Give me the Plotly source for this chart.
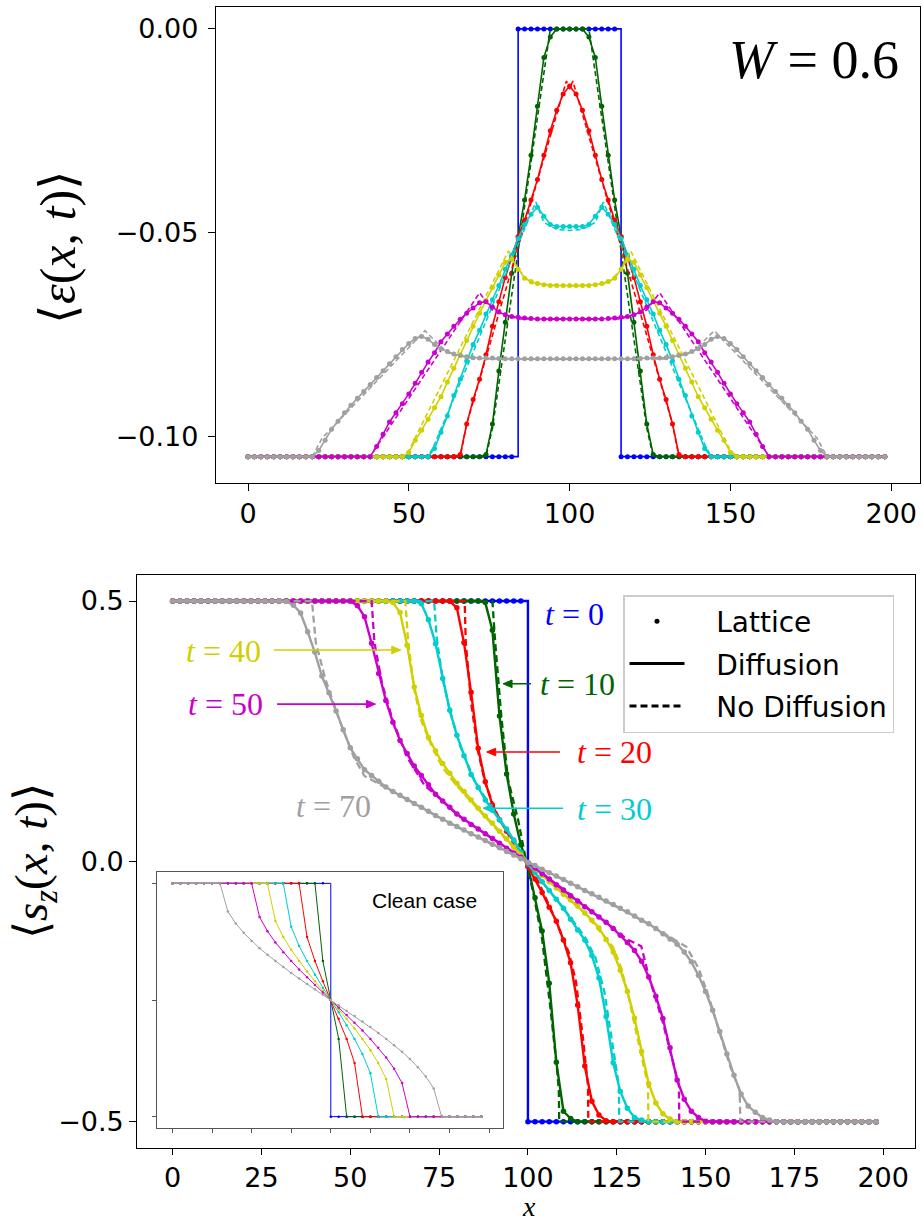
import plotly.graph_objects as go

# ---------------- data ----------------
B = -0.105  # flat energy baseline
SITES = list(range(0, 200, 2))          # lattice sites shown (every 2nd)
INSET_SITES = list(range(0, 200, 5))    # inset sampling
TIME_LABELS = ["0", "10", "20", "30", "40", "50", "70"]
COLORS = ["#0000ff", "#006400", "#ff0000", "#00cdcd", "#d0d000", "#cc00cc", "#a0a0a0"]

# --- top panel: energy profile <eps(x,t)>, lattice/diffusion (x = 0,2,...,198)
E_T0 = [B, B, B, B, B, B, B, B, B, B,
        B, B, B, B, B, B, B, B, B, B,
        B, B, B, B, B, B, B, B, B, B,
        B, B, B, B, B, B, B, B, B, B,
        B, B, 0.0, 0.0, 0.0, 0.0, 0.0, 0.0, 0.0, 0.0,
        0.0, 0.0, 0.0, 0.0, 0.0, 0.0, 0.0, 0.0, B, B,
        B, B, B, B, B, B, B, B, B, B,
        B, B, B, B, B, B, B, B, B, B,
        B, B, B, B, B, B, B, B, B, B,
        B, B, B, B, B, B, B, B, B, B]
E_T10 = [B, B, B, B, B, B, B, B, B, B,
         B, B, B, B, B, B, B, B, B, B,
         B, B, B, B, B, B, B, B, B, B,
         B, B, B, B, B, B, B, -0.1045, -0.097, -0.084,
         -0.072, -0.060, -0.051, -0.042, -0.031, -0.019, -0.007, -0.002, 0.0, 0.0,
         0.0, 0.0, 0.0, -0.002, -0.007, -0.019, -0.031, -0.042, -0.051, -0.060,
         -0.072, -0.084, -0.097, -0.1045, B, B, B, B, B, B,
         B, B, B, B, B, B, B, B, B, B,
         B, B, B, B, B, B, B, B, B, B,
         B, B, B, B, B, B, B, B, B, B]
E_T20 = [B, B, B, B, B, B, B, B, B, B,
         B, B, B, B, B, B, B, B, B, B,
         B, B, B, B, B, B, B, B, B, B,
         B, B, B, -0.1045, -0.097, -0.091, -0.086, -0.080, -0.073, -0.067,
         -0.061, -0.056, -0.051, -0.047, -0.042, -0.037, -0.031, -0.025, -0.020, -0.016,
         -0.014, -0.016, -0.020, -0.025, -0.031, -0.037, -0.042, -0.047, -0.051, -0.056,
         -0.061, -0.067, -0.073, -0.080, -0.086, -0.091, -0.097, -0.1045, B, B,
         B, B, B, B, B, B, B, B, B, B,
         B, B, B, B, B, B, B, B, B, B,
         B, B, B, B, B, B, B, B, B, B]
E_T30 = [B, B, B, B, B, B, B, B, B, B,
         B, B, B, B, B, B, B, B, B, B,
         B, B, B, B, B, B, B, B, B, -0.103,
         -0.099, -0.095, -0.090, -0.086, -0.0815, -0.0775, -0.074, -0.070, -0.0665, -0.063,
         -0.059, -0.0555, -0.0515, -0.048, -0.0455, -0.0438, -0.046, -0.048, -0.0485, -0.0485,
         -0.0485, -0.0485, -0.0485, -0.048, -0.046, -0.0438, -0.0455, -0.048, -0.0515, -0.0555,
         -0.059, -0.063, -0.0665, -0.070, -0.074, -0.0775, -0.0815, -0.086, -0.090, -0.095,
         -0.099, -0.103, B, B, B, B, B, B, B, B,
         B, B, B, B, B, B, B, B, B, B,
         B, B, B, B, B, B, B, B, B, B]
E_T40 = [B, B, B, B, B, B, B, B, B, B,
         B, B, B, B, B, B, B, B, B, B,
         B, B, B, B, B, -0.104, -0.101, -0.0985, -0.0958, -0.093,
         -0.0903, -0.0867, -0.0833, -0.080, -0.0765, -0.073, -0.0698, -0.0667, -0.0635, -0.0604,
         -0.0573, -0.0565, -0.059, -0.0612, -0.062, -0.0625, -0.0628, -0.063, -0.063, -0.063,
         -0.063, -0.063, -0.063, -0.063, -0.0628, -0.0625, -0.062, -0.0612, -0.059, -0.0565,
         -0.0573, -0.0604, -0.0635, -0.0667, -0.0698, -0.073, -0.0765, -0.080, -0.0833, -0.0867,
         -0.0903, -0.093, -0.0958, -0.0985, -0.101, -0.104, B, B, B, B,
         B, B, B, B, B, B, B, B, B, B,
         B, B, B, B, B, B, B, B, B, B]
E_T50 = [B, B, B, B, B, B, B, B, B, B,
         B, B, B, B, B, B, B, B, B, B,
         -0.1025, -0.0995, -0.0965, -0.0942, -0.092, -0.0896, -0.087, -0.0843, -0.0818, -0.0795,
         -0.0768, -0.0749, -0.073, -0.0713, -0.0698, -0.0685, -0.0672, -0.067, -0.0683, -0.0695,
         -0.0702, -0.0706, -0.0708, -0.071, -0.0711, -0.0712, -0.0712, -0.0712, -0.0712, -0.0712,
         -0.0712, -0.0712, -0.0712, -0.0712, -0.0712, -0.0712, -0.0711, -0.071, -0.0708, -0.0706,
         -0.0702, -0.0695, -0.0683, -0.067, -0.0672, -0.0685, -0.0698, -0.0713, -0.073, -0.0749,
         -0.0768, -0.0795, -0.0818, -0.0843, -0.087, -0.0896, -0.092, -0.0942, -0.0965, -0.0995,
         -0.1025, B, B, B, B, B, B, B, B, B,
         B, B, B, B, B, B, B, B, B, B]
E_T70 = [B, B, B, B, B, B, B, B, B, B,
         -0.105, -0.1035, -0.101, -0.0983, -0.0963, -0.0942, -0.0924, -0.0907, -0.089, -0.0873,
         -0.0856, -0.0839, -0.0822, -0.0805, -0.0787, -0.0772, -0.076, -0.0755, -0.0762, -0.0775,
         -0.0785, -0.0792, -0.0798, -0.0802, -0.0805, -0.0807, -0.0808, -0.0808, -0.0808, -0.0809,
         -0.081, -0.081, -0.081, -0.081, -0.081, -0.081, -0.081, -0.081, -0.081, -0.081,
         -0.081, -0.081, -0.081, -0.081, -0.081, -0.081, -0.081, -0.081, -0.081, -0.081,
         -0.081, -0.0809, -0.0808, -0.0808, -0.0808, -0.0807, -0.0805, -0.0802, -0.0798, -0.0792,
         -0.0785, -0.0775, -0.0762, -0.0755, -0.076, -0.0772, -0.0787, -0.0805, -0.0822, -0.0839,
         -0.0856, -0.0873, -0.089, -0.0907, -0.0924, -0.0942, -0.0963, -0.0983, -0.101, -0.1035,
         B, B, B, B, B, B, B, B, B, B]

# --- top panel: no-diffusion (dashed) curves, as (x, y) knots
NDE_T10_X = [0, 74, 76, 94, 106, 124, 126, 198]
NDE_T10_Y = [B, B, -0.098, 0.0, 0.0, -0.098, B, B]
NDE_T20_X = [0, 66, 68, 99, 100, 101, 132, 134, 198]
NDE_T20_Y = [B, B, -0.097, -0.0128, -0.0148, -0.0128, -0.097, B, B]
NDE_T30_X = [0, 56, 58, 89.5, 92, 96, 100, 104, 108, 110.5, 142, 144, 198]
NDE_T30_Y = [B, B, -0.102, -0.0425, -0.0475, -0.0492, -0.0495, -0.0492, -0.0475, -0.0425, -0.102, B, B]
NDE_T40_X = [0, 48, 50, 81, 84, 88, 100, 112, 116, 119, 150, 152, 198]
NDE_T40_Y = [B, B, -0.1035, -0.0545, -0.059, -0.0625, -0.0632, -0.0625, -0.059, -0.0545, -0.1035, B, B]
NDE_T50_X = [0, 38, 40, 72, 76, 84, 100, 116, 124, 128, 160, 162, 198]
NDE_T50_Y = [B, B, -0.1025, -0.0648, -0.069, -0.0712, -0.0713, -0.0712, -0.069, -0.0648, -0.1025, B, B]
NDE_T70_X = [0, 20, 23, 55, 62, 70, 100, 130, 138, 145, 177, 180, 198]
NDE_T70_Y = [B, B, -0.1005, -0.0741, -0.0795, -0.081, -0.0811, -0.081, -0.0795, -0.0741, -0.1005, B, B]

# --- bottom panel: spin profile <s_z(x,t)>, lattice/diffusion (x = 0,2,...,198)
S_T0 = [0.5, 0.5, 0.5, 0.5, 0.5, 0.5, 0.5, 0.5, 0.5, 0.5,
        0.5, 0.5, 0.5, 0.5, 0.5, 0.5, 0.5, 0.5, 0.5, 0.5,
        0.5, 0.5, 0.5, 0.5, 0.5, 0.5, 0.5, 0.5, 0.5, 0.5,
        0.5, 0.5, 0.5, 0.5, 0.5, 0.5, 0.5, 0.5, 0.5, 0.5,
        0.5, 0.5, 0.5, 0.5, 0.5, 0.5, 0.5, 0.5, 0.5, 0.5,
        -0.5, -0.5, -0.5, -0.5, -0.5, -0.5, -0.5, -0.5, -0.5, -0.5,
        -0.5, -0.5, -0.5, -0.5, -0.5, -0.5, -0.5, -0.5, -0.5, -0.5,
        -0.5, -0.5, -0.5, -0.5, -0.5, -0.5, -0.5, -0.5, -0.5, -0.5,
        -0.5, -0.5, -0.5, -0.5, -0.5, -0.5, -0.5, -0.5, -0.5, -0.5,
        -0.5, -0.5, -0.5, -0.5, -0.5, -0.5, -0.5, -0.5, -0.5, -0.5]
S_T10 = [0.5, 0.5, 0.5, 0.5, 0.5, 0.5, 0.5, 0.5, 0.5, 0.5,
         0.5, 0.5, 0.5, 0.5, 0.5, 0.5, 0.5, 0.5, 0.5, 0.5,
         0.5, 0.5, 0.5, 0.5, 0.5, 0.5, 0.5, 0.5, 0.5, 0.5,
         0.5, 0.5, 0.5, 0.5, 0.5, 0.5, 0.5, 0.5, 0.5, 0.5,
         0.5, 0.5, 0.5, 0.5, 0.497, 0.444, 0.279, 0.168, 0.091, 0.032,
         -0.009, -0.07, -0.134, -0.234, -0.386, -0.48, -0.494, -0.5, -0.5, -0.5,
         -0.5, -0.5, -0.5, -0.5, -0.5, -0.5, -0.5, -0.5, -0.5, -0.5,
         -0.5, -0.5, -0.5, -0.5, -0.5, -0.5, -0.5, -0.5, -0.5, -0.5,
         -0.5, -0.5, -0.5, -0.5, -0.5, -0.5, -0.5, -0.5, -0.5, -0.5,
         -0.5, -0.5, -0.5, -0.5, -0.5, -0.5, -0.5, -0.5, -0.5, -0.5]
S_T20 = [0.5, 0.5, 0.5, 0.5, 0.5, 0.5, 0.5, 0.5, 0.5, 0.5,
         0.5, 0.5, 0.5, 0.5, 0.5, 0.5, 0.5, 0.5, 0.5, 0.5,
         0.5, 0.5, 0.5, 0.5, 0.5, 0.5, 0.5, 0.5, 0.5, 0.5,
         0.5, 0.5, 0.5, 0.5, 0.5, 0.5, 0.5, 0.5, 0.5, 0.5,
         0.487, 0.42, 0.325, 0.217, 0.153, 0.108, 0.08, 0.058, 0.039, 0.016,
         -0.01, -0.034, -0.06, -0.088, -0.115, -0.151, -0.195, -0.276, -0.393, -0.461,
         -0.487, -0.498, -0.5, -0.5, -0.5, -0.5, -0.5, -0.5, -0.5, -0.5,
         -0.5, -0.5, -0.5, -0.5, -0.5, -0.5, -0.5, -0.5, -0.5, -0.5,
         -0.5, -0.5, -0.5, -0.5, -0.5, -0.5, -0.5, -0.5, -0.5, -0.5,
         -0.5, -0.5, -0.5, -0.5, -0.5, -0.5, -0.5, -0.5, -0.5, -0.5]
S_T30 = [0.5, 0.5, 0.5, 0.5, 0.5, 0.5, 0.5, 0.5, 0.5, 0.5,
         0.5, 0.5, 0.5, 0.5, 0.5, 0.5, 0.5, 0.5, 0.5, 0.5,
         0.5, 0.5, 0.5, 0.5, 0.5, 0.5, 0.5, 0.5, 0.5, 0.5,
         0.5, 0.5, 0.5, 0.5, 0.5, 0.495, 0.464, 0.418, 0.351, 0.29,
         0.242, 0.203, 0.167, 0.142, 0.118, 0.098, 0.08, 0.062, 0.041, 0.017,
         -0.005, -0.022, -0.039, -0.056, -0.073, -0.09, -0.111, -0.132, -0.151, -0.181,
         -0.224, -0.298, -0.387, -0.442, -0.474, -0.492, -0.497, -0.5, -0.5, -0.5,
         -0.5, -0.5, -0.5, -0.5, -0.5, -0.5, -0.5, -0.5, -0.5, -0.5,
         -0.5, -0.5, -0.5, -0.5, -0.5, -0.5, -0.5, -0.5, -0.5, -0.5,
         -0.5, -0.5, -0.5, -0.5, -0.5, -0.5, -0.5, -0.5, -0.5, -0.5]
S_T40 = [0.5, 0.5, 0.5, 0.5, 0.5, 0.5, 0.5, 0.5, 0.5, 0.5,
         0.5, 0.5, 0.5, 0.5, 0.5, 0.5, 0.5, 0.5, 0.5, 0.5,
         0.5, 0.5, 0.5, 0.5, 0.5, 0.5, 0.5, 0.5, 0.5, 0.5,
         0.5, 0.497, 0.478, 0.415, 0.335, 0.28, 0.238, 0.212, 0.188, 0.169,
         0.15, 0.134, 0.118, 0.102, 0.087, 0.073, 0.058, 0.043, 0.027, 0.012,
         -0.002, -0.014, -0.027, -0.039, -0.051, -0.063, -0.074, -0.086, -0.099, -0.113,
         -0.128, -0.15, -0.174, -0.209, -0.25, -0.301, -0.365, -0.427, -0.464, -0.485,
         -0.495, -0.5, -0.5, -0.5, -0.5, -0.5, -0.5, -0.5, -0.5, -0.5,
         -0.5, -0.5, -0.5, -0.5, -0.5, -0.5, -0.5, -0.5, -0.5, -0.5,
         -0.5, -0.5, -0.5, -0.5, -0.5, -0.5, -0.5, -0.5, -0.5, -0.5]
S_T50 = [0.5, 0.5, 0.5, 0.5, 0.5, 0.5, 0.5, 0.5, 0.5, 0.5,
         0.5, 0.5, 0.5, 0.5, 0.5, 0.5, 0.5, 0.5, 0.5, 0.5,
         0.5, 0.5, 0.5, 0.5, 0.5, 0.5, 0.491, 0.47, 0.419, 0.361,
         0.309, 0.267, 0.232, 0.207, 0.183, 0.165, 0.147, 0.129, 0.116, 0.104,
         0.091, 0.081, 0.071, 0.062, 0.053, 0.044, 0.035, 0.025, 0.016, 0.008,
         -0.003, -0.013, -0.024, -0.034, -0.045, -0.055, -0.066, -0.076, -0.087, -0.097,
         -0.107, -0.117, -0.129, -0.142, -0.156, -0.171, -0.192, -0.222, -0.259, -0.302,
         -0.358, -0.42, -0.457, -0.48, -0.492, -0.499, -0.5, -0.5, -0.5, -0.5,
         -0.5, -0.5, -0.5, -0.5, -0.5, -0.5, -0.5, -0.5, -0.5, -0.5,
         -0.5, -0.5, -0.5, -0.5, -0.5, -0.5, -0.5, -0.5, -0.5, -0.5]
S_T70 = [0.5, 0.5, 0.5, 0.5, 0.5, 0.5, 0.5, 0.5, 0.5, 0.5,
         0.5, 0.5, 0.5, 0.5, 0.5, 0.5, 0.499, 0.492, 0.477, 0.441,
         0.402, 0.356, 0.324, 0.289, 0.253, 0.218, 0.197, 0.176, 0.165, 0.154,
         0.143, 0.134, 0.127, 0.119, 0.111, 0.104, 0.096, 0.088, 0.081, 0.073,
         0.067, 0.06, 0.053, 0.047, 0.04, 0.033, 0.026, 0.019, 0.012, 0.005,
         -0.002, -0.008, -0.015, -0.022, -0.028, -0.035, -0.042, -0.049, -0.056, -0.062,
         -0.069, -0.076, -0.083, -0.09, -0.097, -0.105, -0.113, -0.12, -0.129, -0.139,
         -0.149, -0.159, -0.174, -0.193, -0.219, -0.25, -0.286, -0.327, -0.37, -0.411,
         -0.447, -0.47, -0.482, -0.492, -0.497, -0.5, -0.5, -0.5, -0.5, -0.5,
         -0.5, -0.5, -0.5, -0.5, -0.5, -0.5, -0.5, -0.5, -0.5, -0.5]

# --- bottom panel: no-diffusion (dashed) curves, as (x, y) knots
NDS_T10_X = [0, 90, 90.8, 92.5, 94.4, 97.2, 99.5, 101.5, 104, 106.3, 108.2, 108.7, 108.8, 198]
NDS_T10_Y = [0.5, 0.5, 0.42, 0.279, 0.157, 0.081, 0.0, -0.06, -0.15, -0.28, -0.4, -0.44, -0.5, -0.5]
NDS_T20_X = [0, 82.2, 82.5, 84.1, 86, 88, 91, 95, 99.5, 103, 107, 111.5, 113.5, 115.5, 116.9, 117.0, 198]
NDS_T20_Y = [0.5, 0.5, 0.42, 0.3, 0.21, 0.15, 0.095, 0.045, 0.0, -0.04, -0.1, -0.175, -0.23, -0.34, -0.43, -0.5, -0.5]
NDS_T30_X = [0, 73.6, 74.3, 76, 78, 81, 85, 90, 95, 99.5, 104, 110, 116, 119, 121.5, 123.8, 125.6, 125.7, 198]
NDS_T30_Y = [0.5, 0.5, 0.43, 0.35, 0.29, 0.22, 0.155, 0.1, 0.05, 0.0, -0.04, -0.09, -0.145, -0.185, -0.25, -0.35, -0.43, -0.5, -0.5]
NDS_T40_X = [0, 65.5, 66.3, 68, 70, 73, 76, 80, 86, 93, 99.5, 108, 116, 121, 124, 126, 128, 131.5, 133.8, 133.9, 198]
NDS_T40_Y = [0.5, 0.5, 0.42, 0.33, 0.27, 0.22, 0.18, 0.145, 0.1, 0.048, 0.0, -0.05, -0.1, -0.14, -0.165, -0.2, -0.25, -0.36, -0.43, -0.5, -0.5]
NDS_T50_X = [0, 56, 56.8, 59, 62, 66, 71, 74, 80.6, 89, 99.5, 112, 123, 128, 131.9, 134, 138, 141, 142.5, 142.6, 198]
NDS_T50_Y = [0.5, 0.5, 0.42, 0.34, 0.27, 0.2, 0.145, 0.128, 0.087, 0.048, 0.0, -0.064, -0.122, -0.15, -0.163, -0.22, -0.31, -0.39, -0.43, -0.5, -0.5]
NDS_T70_X = [0, 39.2, 40.3, 43, 47, 51, 54, 61, 70, 78, 89, 99.5, 107, 116, 126, 135, 144.6, 148, 151, 154, 157, 159.6, 159.8, 198]
NDS_T70_Y = [0.5, 0.5, 0.42, 0.35, 0.27, 0.2, 0.164, 0.138, 0.104, 0.073, 0.036, 0.0, -0.025, -0.056, -0.09, -0.125, -0.164, -0.205, -0.262, -0.33, -0.395, -0.44, -0.5, -0.5]

# --- inset (clean case), x = 0,5,...,195
C_T0 = [0.5, 0.5, 0.5, 0.5, 0.5, 0.5, 0.5, 0.5, 0.5, 0.5,
        0.5, 0.5, 0.5, 0.5, 0.5, 0.5, 0.5, 0.5, 0.5, 0.5,
        -0.5, -0.5, -0.5, -0.5, -0.5, -0.5, -0.5, -0.5, -0.5, -0.5,
        -0.5, -0.5, -0.5, -0.5, -0.5, -0.5, -0.5, -0.5, -0.5, -0.5]
C_T10 = [0.5, 0.5, 0.5, 0.5, 0.5, 0.5, 0.5, 0.5, 0.5, 0.5,
         0.5, 0.5, 0.5, 0.5, 0.5, 0.5, 0.5, 0.5, 0.5, 0.167,
         0.0, -0.167, -0.5, -0.5, -0.5, -0.5, -0.5, -0.5, -0.5, -0.5,
         -0.5, -0.5, -0.5, -0.5, -0.5, -0.5, -0.5, -0.5, -0.5, -0.5]
C_T20 = [0.5, 0.5, 0.5, 0.5, 0.5, 0.5, 0.5, 0.5, 0.5, 0.5,
         0.5, 0.5, 0.5, 0.5, 0.5, 0.5, 0.5, 0.27, 0.167, 0.080,
         0.0, -0.080, -0.167, -0.27, -0.5, -0.5, -0.5, -0.5, -0.5, -0.5,
         -0.5, -0.5, -0.5, -0.5, -0.5, -0.5, -0.5, -0.5, -0.5, -0.5]
C_T30 = [0.5, 0.5, 0.5, 0.5, 0.5, 0.5, 0.5, 0.5, 0.5, 0.5,
         0.5, 0.5, 0.5, 0.5, 0.5, 0.314, 0.232, 0.167, 0.108, 0.053,
         0.0, -0.053, -0.108, -0.167, -0.232, -0.314, -0.5, -0.5, -0.5, -0.5,
         -0.5, -0.5, -0.5, -0.5, -0.5, -0.5, -0.5, -0.5, -0.5, -0.5]
C_T40 = [0.5, 0.5, 0.5, 0.5, 0.5, 0.5, 0.5, 0.5, 0.5, 0.5,
         0.5, 0.5, 0.5, 0.339, 0.27, 0.215, 0.167, 0.122, 0.080, 0.040,
         0.0, -0.040, -0.080, -0.122, -0.167, -0.215, -0.27, -0.339, -0.5, -0.5,
         -0.5, -0.5, -0.5, -0.5, -0.5, -0.5, -0.5, -0.5, -0.5, -0.5]
C_T50 = [0.5, 0.5, 0.5, 0.5, 0.5, 0.5, 0.5, 0.5, 0.5, 0.5,
         0.5, 0.356, 0.295, 0.247, 0.205, 0.167, 0.131, 0.097, 0.064, 0.032,
         0.0, -0.032, -0.064, -0.097, -0.131, -0.167, -0.205, -0.247, -0.295, -0.356,
         -0.5, -0.5, -0.5, -0.5, -0.5, -0.5, -0.5, -0.5, -0.5, -0.5]
C_T70 = [0.5, 0.5, 0.5, 0.5, 0.5, 0.5, 0.5, 0.379, 0.328, 0.288,
         0.253, 0.222, 0.194, 0.167, 0.141, 0.116, 0.092, 0.069, 0.046, 0.023,
         0.0, -0.023, -0.046, -0.069, -0.092, -0.116, -0.141, -0.167, -0.194, -0.222,
         -0.253, -0.288, -0.328, -0.379, -0.5, -0.5, -0.5, -0.5, -0.5, -0.5]

# --- annotation arrows in the lower panel: (label, head x, head y, tail x)
ARROWS = [("10", 93.0, 0.341, 100.9), ("20", 88.4, 0.210, 109.0), ("30", 87.4, 0.102, 109.9),
          ("40", 64.2, 0.406, 28.5), ("50", 57.1, 0.302, 29.4)]

E_CURVES = [E_T0, E_T10, E_T20, E_T30, E_T40, E_T50, E_T70]
S_CURVES = [S_T0, S_T10, S_T20, S_T30, S_T40, S_T50, S_T70]
C_CURVES = [C_T0, C_T10, C_T20, C_T30, C_T40, C_T50, C_T70]
NDE = [None, (NDE_T10_X, NDE_T10_Y), (NDE_T20_X, NDE_T20_Y), (NDE_T30_X, NDE_T30_Y),
       (NDE_T40_X, NDE_T40_Y), (NDE_T50_X, NDE_T50_Y), (NDE_T70_X, NDE_T70_Y)]
NDS = [None, (NDS_T10_X, NDS_T10_Y), (NDS_T20_X, NDS_T20_Y), (NDS_T30_X, NDS_T30_Y),
       (NDS_T40_X, NDS_T40_Y), (NDS_T50_X, NDS_T50_Y), (NDS_T70_X, NDS_T70_Y)]

# ---------------- figure ----------------
fig = go.Figure()

for i, col in enumerate(COLORS):
    shape = "hv" if i == 0 else "linear"
    # top panel
    if NDE[i] is not None:
        fig.add_trace(go.Scatter(x=NDE[i][0], y=NDE[i][1], mode="lines", xaxis="x", yaxis="y",
                                 line=dict(color=col, width=1.6, dash="5px,3px"),
                                 showlegend=False, hoverinfo="skip"))
    fig.add_trace(go.Scatter(x=SITES, y=E_CURVES[i], mode="lines+markers", xaxis="x", yaxis="y",
                             line=dict(color=col, width=1.6, shape=shape),
                             marker=dict(color=col, size=5),
                             name="t = " + TIME_LABELS[i], showlegend=False))
    # bottom panel
    if NDS[i] is not None:
        fig.add_trace(go.Scatter(x=NDS[i][0], y=NDS[i][1], mode="lines", xaxis="x2", yaxis="y2",
                                 line=dict(color=col, width=2.3, dash="7px,4px"),
                                 showlegend=False, hoverinfo="skip"))
    fig.add_trace(go.Scatter(x=SITES, y=S_CURVES[i], mode="lines+markers", xaxis="x2", yaxis="y2",
                             line=dict(color=col, width=2.4, shape=shape),
                             marker=dict(color=col, size=5.5),
                             name="t = " + TIME_LABELS[i], showlegend=False))
    # inset
    fig.add_trace(go.Scatter(x=INSET_SITES, y=C_CURVES[i], mode="lines+markers", xaxis="x3", yaxis="y3",
                             line=dict(color=col, width=1.0, shape=shape),
                             marker=dict(color=col, size=2.5),
                             showlegend=False, hoverinfo="skip"))

NB = "\u00a0"
# legend entries
fig.add_trace(go.Scatter(x=[None], y=[None], mode="markers", xaxis="x2", yaxis="y2",
                         marker=dict(color="black", size=5), name=NB * 3 + "Lattice",
                         legendgroup="a"))
fig.add_trace(go.Scatter(x=[None], y=[None], mode="lines", xaxis="x2", yaxis="y2",
                         line=dict(color="black", width=3), name=NB * 3 + "Diffusion",
                         legendgroup="b"))
fig.add_trace(go.Scatter(x=[None], y=[None], mode="lines", xaxis="x2", yaxis="y2",
                         line=dict(color="black", width=3, dash="7px,4px"),
                         name=NB * 3 + "No Diffusion", legendgroup="c"))

W, H = 923, 1222
def px(xp):
    return xp / W
def py(yp):
    return 1 - yp / H

# lower-panel geometry (for arrow heads)
X2_RANGE = [-9.95, 208.95]
Y2_RANGE = [-0.55, 0.55]
X2_PIX = (915 - 137.3) / (X2_RANGE[1] - X2_RANGE[0])
Y2_PIX = (1147.7 - 575) / (Y2_RANGE[1] - Y2_RANGE[0])

axis_common = dict(showgrid=False, zeroline=False, showline=True, mirror=True,
                   linecolor="black", linewidth=1.3, ticks="outside",
                   tickwidth=1.3, tickcolor="black",
                   tickfont=dict(family="DejaVu Sans", size=27, color="black"))

fig.update_layout(
    width=W, height=H, margin=dict(l=0, r=0, t=0, b=0),
    paper_bgcolor="white", plot_bgcolor="white",
    font=dict(family="DejaVu Sans", size=27, color="black"),
    xaxis=dict(domain=[px(216), px(920)], range=[-9.95, 208.95], anchor="y", ticklen=7,
               tickvals=[0, 50, 100, 150, 200], **axis_common),
    yaxis=dict(domain=[py(482.7), py(7.3)], range=[-0.1114, 0.0053], anchor="x", ticklen=7,
               tickvals=[0.0, -0.05, -0.10], tickformat=".2f", ticklabelstandoff=4,
               **axis_common),
    xaxis2=dict(domain=[px(137.3), px(915)], range=X2_RANGE, anchor="y2", ticklen=6,
                tickvals=[0, 25, 50, 75, 100, 125, 150, 175, 200], **axis_common),
    yaxis2=dict(domain=[py(1147.7), py(575)], range=Y2_RANGE, anchor="x2", ticklen=7,
                tickvals=[-0.5, 0.0, 0.5], tickformat=".1f", **axis_common),
    xaxis3=dict(domain=[px(156.7), px(503.3)], range=[-9.95, 208.95], anchor="y3",
                tickvals=[0, 25, 50, 75, 100, 125, 150, 175, 200], showticklabels=False,
                showgrid=False, zeroline=False, showline=True, mirror=True,
                linecolor="#555555", linewidth=1, ticks="outside", ticklen=4,
                tickcolor="#555555", tickwidth=1),
    yaxis3=dict(domain=[py(1128.3), py(871.7)], range=[-0.55, 0.55], anchor="x3",
                tickvals=[-0.5, 0.0, 0.5], showticklabels=False,
                showgrid=False, zeroline=False, showline=True, mirror=True,
                linecolor="#555555", linewidth=1, ticks="outside", ticklen=4,
                tickcolor="#555555", tickwidth=1),
    showlegend=True,
    legend=dict(x=px(623), y=py(595), xanchor="left", yanchor="top",
                bgcolor="rgba(255,255,255,0.85)", bordercolor="#cccccc", borderwidth=1.5,
                font=dict(family="DejaVu Sans", size=28, color="black"),
                tracegroupgap=3, itemwidth=55),
)

serif = "Liberation Serif"
ann = []
ann.append(dict(x=px(814), y=py(60), xref="paper", yref="paper", showarrow=False,
                text="<i>W</i> = 0.6", font=dict(family=serif, size=54, color="black"),
                xanchor="center", yanchor="middle"))
ann.append(dict(x=px(58), y=py(247), xref="paper", yref="paper", showarrow=False,
                text="⟨<i>ε</i>(<i>x</i>, <i>t</i>)⟩", textangle=-90,
                font=dict(family=serif, size=50, color="black"),
                xanchor="center", yanchor="middle"))
ann.append(dict(x=px(34), y=py(861), xref="paper", yref="paper", showarrow=False,
                text="⟨<i>s</i><sub><i>z</i></sub>(<i>x</i>, <i>t</i>)⟩", textangle=-90,
                font=dict(family=serif, size=47, color="black"),
                xanchor="center", yanchor="middle"))
ann.append(dict(x=px(529), y=py(1206), xref="paper", yref="paper", showarrow=False,
                text="<i>x</i>", font=dict(family=serif, size=28, color="black"),
                xanchor="center", yanchor="middle", borderpad=0))
ann.append(dict(x=px(424), y=py(900), xref="paper", yref="paper", showarrow=False,
                text="Clean case", font=dict(family="Liberation Sans", size=21, color="black"),
                xanchor="center", yanchor="middle"))
LABEL_POS = {"0": (574, 614), "10": (577, 684), "20": (614, 752), "30": (614, 809),
             "40": (223, 651), "50": (225, 704), "70": (333, 806)}
for i, lab in enumerate(TIME_LABELS):
    xc, yc = LABEL_POS[lab]
    ann.append(dict(x=px(xc), y=py(yc), xref="paper", yref="paper", showarrow=False,
                    text="<i>t</i> = " + lab, font=dict(family=serif, size=32, color=COLORS[i]),
                    xanchor="center", yanchor="middle"))
fig.update_layout(annotations=ann)

# arrows drawn as shapes (shaft + filled head)
shapes = []
HEAD_LEN, HEAD_HALF = 9.0, 3.8  # px
for lab, hx, hy, tx in ARROWS:
    col = COLORS[TIME_LABELS.index(lab)]
    sgn = 1 if tx > hx else -1
    base_x = hx + sgn * HEAD_LEN / X2_PIX
    dy = HEAD_HALF / Y2_PIX
    shapes.append(dict(type="line", xref="x2", yref="y2", x0=tx, y0=hy, x1=base_x, y1=hy,
                       line=dict(color=col, width=1.6)))
    shapes.append(dict(type="path", xref="x2", yref="y2",
                       path=f"M {hx},{hy} L {base_x},{hy + dy} L {base_x},{hy - dy} Z",
                       fillcolor=col, line=dict(color=col, width=1)))
fig.update_layout(shapes=shapes)

fig.write_html("out.html")
